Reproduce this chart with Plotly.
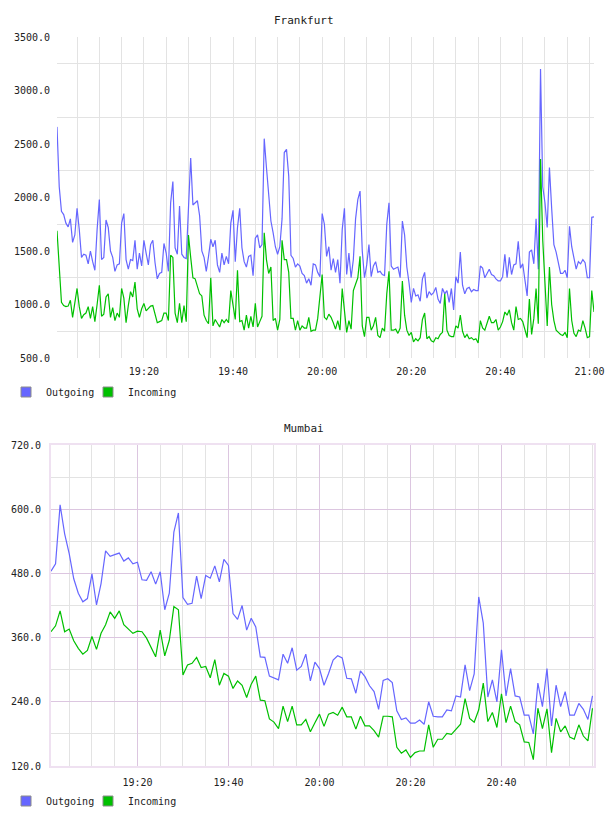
import pandas as pd
import plotly.graph_objects as go

# ---------------- data ----------------
fra_out = [2660, 2100, 1870, 1840, 1760, 1725, 1800, 1580, 1650, 1900,
           1700, 1440, 1470, 1460, 1380, 1500, 1400, 1320, 1700, 1980,
           1420, 1440, 1790, 1720, 1500, 1440, 1310, 1370, 1380, 1760,
           1850, 1420, 1330, 1420, 1410, 1600, 1330, 1480, 1360, 1600,
           1480, 1370, 1560, 1600, 1390, 1240, 1290, 1300, 1570, 1480,
           1310, 1950, 2150, 1530, 1470, 1920, 1470, 1440, 1430, 1950,
           2370, 1930, 1950, 1970, 1830, 1500, 1440, 1310, 1450, 1610,
           1540, 1600, 1370, 1300, 1480, 1370, 1450, 1380, 1760, 1880,
           1400, 1720, 1900, 1530, 1400, 1350, 1450, 1460, 1270, 1620,
           1650, 1530, 1560, 2550, 2280, 2050, 1780, 1670, 1540, 1470,
           1540, 1800, 2420, 2450, 2200, 1460, 1430, 1350, 1380, 1360,
           1290, 1270, 1200, 1240, 1180, 1380, 1370, 1300, 1260, 1850,
           1750, 1450, 1540, 1320, 1430, 1300, 1420, 1200, 1700, 1900,
           1280, 1480, 1250, 1420, 1800, 1980, 2060, 1500, 1250, 1370,
           1560, 1260, 1360, 1400, 1300, 1310, 1280, 1270, 1750, 1950,
           1360, 1330, 1340, 1350, 1250, 1780, 1650, 1350, 1200, 1020,
           1150, 1080, 1090, 1030, 1240, 1300, 1060, 1120, 1090, 1110,
           1160, 1050, 1010, 1150, 1100, 1130, 1020, 1150, 950, 1260,
           1200, 1490, 1180, 1100, 1150, 1160, 1120, 1140, 1130, 1130,
           1360, 1340, 1250, 1290, 1330, 1280, 1270, 1240, 1220, 1220,
           1260, 1470, 1250, 1440, 1280, 1370, 1380, 1590, 1340, 1380,
           1250, 1080, 1490, 1510, 1380, 1800, 1330, 3200, 2100, 1950,
           1720, 2280, 1900, 1560, 1490, 1380, 1290, 1290, 1320, 1250,
           1730, 1540, 1440, 1330, 1400, 1380, 1420, 1390, 1250, 1250,
           1815, 1820]

fra_in = [1690, 1380, 1020, 990, 980, 985, 1040, 880, 1040, 1150,
          980, 870, 905, 920, 980, 870, 980, 840, 1000, 1180,
          890, 910, 1070, 1100, 880, 970, 850, 920, 880, 1150,
          1060, 830, 990, 1120, 1070, 1210, 960, 880, 960, 1010,
          940, 960, 985, 990, 910, 830, 840, 850, 920, 920,
          850, 1460, 1440, 920, 830, 1010, 830, 990, 840, 1650,
          1440, 1250, 1240, 1170, 1100, 1080, 900, 850, 820, 1250,
          800, 860, 830, 790, 860, 830, 860, 830, 1130, 1000,
          860, 1320, 840, 850, 760, 900, 780, 890, 790, 1010,
          790, 840, 890, 1670, 1420, 1290, 1350, 850, 870, 760,
          860, 1600, 1420, 1420, 1300, 870, 870, 760, 850, 760,
          800, 780, 780, 880, 750, 760, 760, 870, 1100, 1280,
          880, 860, 910, 880, 830, 770, 850, 760, 1150, 950,
          740, 850, 770, 1130, 1200, 1250, 1450, 800, 700, 880,
          880, 760, 800, 880, 710, 690, 780, 750, 1100, 1310,
          760, 760, 770, 730, 780, 1220, 900, 760, 710, 740,
          650, 680, 660, 690, 860, 920, 680, 700, 660, 650,
          690, 680, 720, 740, 1100, 760, 710, 700, 700, 800,
          780, 900, 750, 690, 720, 680, 690, 670, 680, 640,
          850, 780, 760, 820, 890, 830, 830, 860, 760, 790,
          840, 930, 900, 950, 830, 760, 980, 860, 870, 840,
          770, 690, 1050, 720, 870, 1150, 820, 2360, 1600, 1150,
          800, 1350, 1000, 850, 760, 740, 720, 710, 740, 690,
          1150, 850, 730, 700, 760, 750, 850, 780, 690, 700,
          1130, 930]

mum_out = [484, 498, 608, 554, 517, 470, 443, 427, 433, 479,
           421, 461, 522, 512, 515, 518, 503, 509, 498, 501,
           468, 467, 483, 460, 483, 412, 443, 557, 593, 435,
           422, 424, 475, 433, 476, 471, 494, 464, 506, 495,
           405, 394, 420, 374, 396, 380, 324, 323, 288, 285,
           281, 329, 312, 341, 299, 306, 329, 279, 314, 302,
           271, 293, 318, 326, 322, 284, 283, 256, 298, 287,
           270, 259, 226, 280, 283, 276, 223, 207, 210, 200,
           200, 206, 198, 240, 213, 212, 212, 225, 223, 251,
           249, 309, 261, 292, 436, 387, 249, 281, 240, 337,
           251, 302, 251, 249, 215, 215, 180, 275, 231, 302,
           195, 271, 231, 259, 215, 215, 237, 226, 207, 251]

mum_in = [371, 382, 410, 371, 376, 354, 340, 329, 336, 362,
          338, 368, 384, 408, 396, 410, 384, 375, 368, 372,
          371, 359, 342, 324, 374, 326, 355, 418, 412, 290,
          309, 312, 323, 304, 306, 285, 319, 271, 293, 288,
          265, 279, 271, 248, 273, 288, 243, 242, 208, 202,
          190, 232, 203, 232, 197, 197, 207, 184, 201, 217,
          194, 217, 220, 215, 230, 212, 212, 189, 213, 195,
          195, 186, 174, 213, 213, 212, 155, 144, 150, 136,
          145, 148, 148, 197, 155, 170, 170, 181, 179, 189,
          198, 246, 209, 202, 225, 275, 203, 220, 192, 255,
          201, 232, 203, 197, 165, 164, 132, 228, 190, 227,
          145, 209, 184, 195, 174, 170, 197, 176, 167, 228]

fra_start = "2024-01-01 19:00:30"
fra_step = "30s"
mum_start = "2024-01-01 19:01:00"
mum_step = "60s"
series_names = ["Outgoing", "Incoming"]
fra_yticks = [500, 1000, 1500, 2000, 2500, 3000, 3500]
mum_yticks = [120, 240, 360, 480, 600, 720]
mum_xticks = ["2024-01-01 19:20", "2024-01-01 19:40", "2024-01-01 20:00",
              "2024-01-01 20:20", "2024-01-01 20:40"]

fra_t = pd.date_range(fra_start, periods=len(fra_out), freq=fra_step)
mum_t = pd.date_range(mum_start, periods=len(mum_out), freq=mum_step)

# ---------------- style ----------------
W, H = 608, 816
BLUE = "#6666ff"
GREEN = "#00c000"
FONT = "DejaVu Sans Mono"
GRID = "#e3e3e3"
PURPLE = "#dcc6e0"
BORDER = "#efe1f1"

def px(v, total):
    return v / total

fig = go.Figure()

# Frankfurt
fig.add_trace(go.Scatter(x=fra_t, y=fra_out, mode="lines", line=dict(color=BLUE, width=1.2),
                         showlegend=False, xaxis="x", yaxis="y", hoverinfo="skip"))
fig.add_trace(go.Scatter(x=fra_t, y=fra_in, mode="lines", line=dict(color=GREEN, width=1.2),
                         showlegend=False, xaxis="x", yaxis="y", hoverinfo="skip"))
# Mumbai
fig.add_trace(go.Scatter(x=mum_t, y=mum_out, mode="lines", line=dict(color=BLUE, width=1.2),
                         showlegend=False, xaxis="x2", yaxis="y2", hoverinfo="skip"))
fig.add_trace(go.Scatter(x=mum_t, y=mum_in, mode="lines", line=dict(color=GREEN, width=1.2),
                         showlegend=False, xaxis="x2", yaxis="y2", hoverinfo="skip"))

# legend swatches (one legend per entry for exact placement)
legend_ids = [("legend", "legend2"), ("legend3", "legend4")]
for (lgs, xa, ya) in zip(legend_ids, ("x", "x2"), ("y", "y2")):
    for lg, name, col in zip(lgs, series_names, (BLUE, GREEN)):
        fig.add_trace(go.Scatter(x=[None], y=[None], mode="markers", name=name,
                                 marker=dict(symbol="square", size=10, color=col,
                                             line=dict(color="#8c8c8c", width=1)),
                                 legend=lg, xaxis=xa, yaxis=ya))

tickfont = dict(family=FONT, size=10, color="#222")

def leg(xpix, ypix):
    return dict(orientation="h", x=px(xpix, W), xanchor="left", y=1 - px(ypix, H),
                yanchor="middle", font=dict(family=FONT, size=10, color="#222"),
                bgcolor="rgba(0,0,0,0)", itemclick=False, itemdoubleclick=False)

fig.update_layout(
    width=W, height=H,
    margin=dict(l=0, r=0, t=0, b=0, autoexpand=False),
    paper_bgcolor="white", plot_bgcolor="white",
    showlegend=True,
    xaxis=dict(
        domain=[px(57, W), px(594, W)], anchor="y", automargin=False,
        type="date", range=[fra_t[0], fra_t[-1]],
        tickformat="%H:%M", dtick=20 * 60 * 1000, tick0="2024-01-01 19:00:00",
        showgrid=True, gridcolor=GRID, gridwidth=1,
        minor=dict(dtick=5 * 60 * 1000, tick0="2024-01-01 19:00:00", showgrid=True,
                   gridcolor=GRID, gridwidth=1),
        showline=False, zeroline=False, ticks="", tickfont=tickfont,
        ticklabelstandoff=6,
    ),
    yaxis=dict(
        domain=[1 - px(358, H), 1 - px(37, H)], anchor="x", automargin=False,
        range=[500, 3500], tickvals=fra_yticks, tickformat=".1f",
        showgrid=False, zeroline=False, showline=False, ticks="",
        minor=dict(tick0=250, dtick=500, showgrid=True, gridcolor=GRID, gridwidth=1),
        tickfont=tickfont, ticklabelstandoff=6,
    ),
    xaxis2=dict(
        domain=[px(51, W), px(594, W)], anchor="y2", automargin=False,
        type="date", range=["2024-01-01 19:01:00", "2024-01-01 21:00:20"],
        tickformat="%H:%M", tickvals=mum_xticks,
        showgrid=True, gridcolor=PURPLE, gridwidth=1,
        minor=dict(dtick=5 * 60 * 1000, tick0="2024-01-01 19:00:00", showgrid=True,
                   gridcolor=GRID, gridwidth=1),
        showline=True, linecolor=BORDER, linewidth=2, mirror=True,
        zeroline=False, ticks="", tickfont=tickfont, ticklabelstandoff=6,
    ),
    yaxis2=dict(
        domain=[1 - px(766, H), 1 - px(445, H)], anchor="x2", automargin=False,
        range=[120, 720], tickvals=mum_yticks, tickformat=".1f",
        showgrid=True, gridcolor=PURPLE, gridwidth=1,
        minor=dict(tick0=60, dtick=120, showgrid=True, gridcolor=GRID, gridwidth=1),
        showline=True, linecolor=BORDER, linewidth=2, mirror=True,
        zeroline=False, ticks="", tickfont=tickfont, ticklabelstandoff=6,
    ),
    legend=leg(6, 392),
    legend2=leg(88, 392),
    legend3=leg(6, 801),
    legend4=leg(88, 801),
    annotations=[
        dict(text="Frankfurt", x=0.5, y=1 - px(20, H), xref="paper", yref="paper",
             xanchor="center", yanchor="middle",
             showarrow=False, font=dict(family=FONT, size=11, color="#222")),
        dict(text="Mumbai", x=0.5, y=1 - px(428, H), xref="paper", yref="paper",
             xanchor="center", yanchor="middle",
             showarrow=False, font=dict(family=FONT, size=11, color="#222")),
    ],
)

fig.write_html("out.html")
